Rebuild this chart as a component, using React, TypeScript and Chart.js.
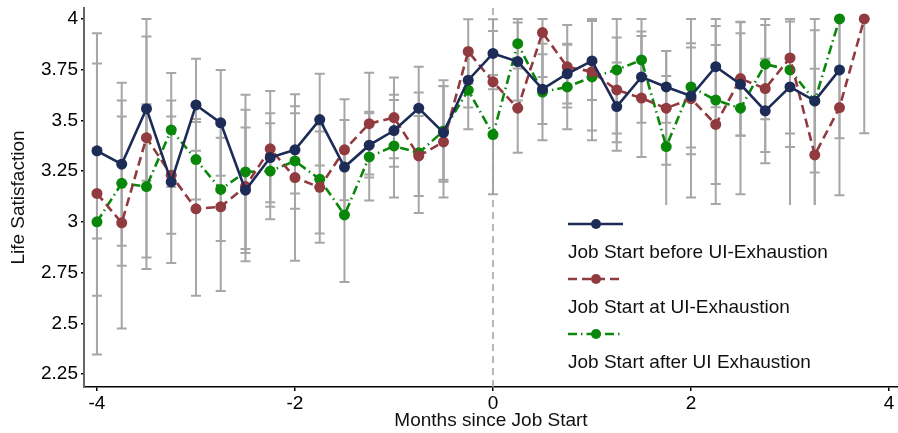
import React, { useEffect, useRef } from "react";
import { Chart, registerables } from "chart.js";

Chart.register(...registerables);

const months = [
  -4, -3.75, -3.5, -3.25, -3, -2.75, -2.5, -2.25, -2, -1.75, -1.5, -1.25, -1, -0.75, -0.5, -0.25,
  0, 0.25, 0.5, 0.75, 1, 1.25, 1.5, 1.75, 2, 2.25, 2.5, 2.75, 3, 3.25, 3.5, 3.75,
];
const xTicks = [-4, -2, 0, 2, 4];
const yTicks = [2.25, 2.5, 2.75, 3, 3.25, 3.5, 3.75, 4];
const seriesLabels = [
  "Job Start before UI-Exhaustion",
  "Job Start at UI-Exhaustion",
  "Job Start after UI Exhaustion",
];

const before = [
  3.35, 3.284, 3.558, 3.197, 3.576, 3.488, 3.156, 3.317, 3.355, 3.504, 3.27, 3.378, 3.45, 3.56, 3.44, 3.698,
  3.83, 3.79, 3.654, 3.73, 3.793, 3.568, 3.714, 3.665, 3.62, 3.765, 3.678, 3.547, 3.665, 3.596, 3.749, null,
];
const beforeLo = [
  2.918, 2.882, 3.203, 2.797, 3.35, 3.227, 2.847, 3.097, 3.14, 3.278, 3.038, 3.218, 3.272, 3.355, 3.207, 3.563,
  3.654, 3.598, 3.482, 3.583, 3.6, 3.351, 3.489, 3.488, 3.366, 3.565, 3.424, 3.289, 3.369, 3.243, 3.412, null,
];
const beforeHi = [
  3.78, 3.686, 3.913, 3.598, 3.804, 3.749, 3.465, 3.535, 3.57, 3.73, 3.502, 3.543, 3.626, 3.765, 3.67, 3.833,
  3.998, 3.982, 3.826, 3.878, 3.99, 3.785, 3.938, 3.842, 3.88, 3.965, 3.93, 3.804, 3.987, 3.944, 4.0, null,
];

const atExh = [
  3.14, 2.995, 3.415, 3.23, 3.064, 3.074, 3.174, 3.36, 3.218, 3.17, 3.355, 3.484, 3.514, 3.325, 3.394, 3.84,
  3.69, 3.56, 3.933, 3.764, 3.74, 3.65, 3.61, 3.56, 3.607, 3.48, 3.706, 3.657, 3.808, 3.33, 3.563, 4.0,
];
const atExhLo = [
  2.346, 2.474, 2.824, 2.941, 2.636, 2.659, 2.806, 3.075, 2.808, 2.897, 3.106, 3.233, 3.314, 3.128, 3.12, 3.682,
  3.439, 3.34, 3.714, 3.563, 3.402, 3.392, 3.32, 3.281, 3.333, 3.088, 3.426, 3.344, 2.95, 2.905, 3.131, 3.437,
];
const atExhHi = [
  3.93, 3.519, 4.0, 3.519, 3.492, 3.489, 3.552, 3.645, 3.629, 3.445, 3.604, 3.735, 3.711, 3.522, 3.668, 3.998,
  3.941, 3.78, 4.0, 3.97, 4.0, 3.908, 3.916, 3.842, 3.859, 3.872, 3.986, 3.97, 4.0, 3.755, 3.995, 4.0,
];

const after = [
  3.0, 3.19, 3.174, 3.453, 3.307, 3.16, 3.246, 3.25, 3.3, 3.21, 3.034, 3.32, 3.374, 3.34, 3.448, 3.649,
  3.43, 3.878, 3.64, 3.665, 3.714, 3.749, 3.798, 3.371, 3.665, 3.6, 3.56, 3.777, 3.749, 3.596, 4.0, null,
];
const afterLo = [
  2.636, 2.783, 2.767, 3.172, 3.11, 2.905, 2.866, 3.013, 3.065, 2.942, 2.704, 3.105, 3.12, 3.043, 3.198, 3.457,
  3.136, 3.756, 3.402, 3.457, 3.45, 3.435, 3.6, 3.023, 3.12, 3.186, 3.136, 3.506, 3.435, 3.0, null, null,
];
const afterHi = [
  3.364, 3.598, 3.58, 3.734, 3.507, 3.415, 3.626, 3.486, 3.535, 3.478, 3.364, 3.535, 3.601, 3.637, 3.698, 3.841,
  3.724, 4.0, 3.878, 3.873, 3.99, 4.0, 4.0, 3.719, 4.0, 4.0, 3.984, 4.0, 4.0, 4.0, null, null,
];

const NAVY = "#1d2b57";
const RED = "#913a3f";
const GREEN = "#0a870a";
const FONT = "'Liberation Sans', Arial, Helvetica, sans-serif";

const seriesStyles = [
  { color: NAVY, dash: [] as number[] },
  { color: RED, dash: [9, 5] },
  { color: GREEN, dash: [9, 4, 1.5, 4] },
];

const ciPairs = [
  [beforeLo, beforeHi],
  [atExhLo, atExhHi],
  [afterLo, afterHi],
];

const errorBarPlugin = {
  id: "errorBars",
  beforeDatasetsDraw(chart: any) {
    const { ctx, chartArea, scales } = chart;
    const xs = scales.x;
    const ys = scales.y;
    ctx.save();
    ctx.beginPath();
    ctx.rect(chartArea.left, chartArea.top, chartArea.right - chartArea.left, chartArea.bottom - chartArea.top);
    ctx.clip();
    ctx.strokeStyle = "#a6a6a6";
    ctx.lineWidth = 2;
    ctx.setLineDash([]);
    for (const [lo, hi] of ciPairs) {
      months.forEach((m, i) => {
        const l = lo[i];
        const h = hi[i];
        if (l == null || h == null) return;
        const px = xs.getPixelForValue(m);
        const pl = ys.getPixelForValue(l);
        const ph = ys.getPixelForValue(h);
        ctx.beginPath();
        ctx.moveTo(px, pl);
        ctx.lineTo(px, ph);
        ctx.moveTo(px - 5, pl);
        ctx.lineTo(px + 5, pl);
        ctx.moveTo(px - 5, ph);
        ctx.lineTo(px + 5, ph);
        ctx.stroke();
      });
    }
    const x0 = xs.getPixelForValue(0);
    ctx.strokeStyle = "#a0a0a0";
    ctx.lineWidth = 1.5;
    ctx.setLineDash([7, 5]);
    ctx.beginPath();
    ctx.moveTo(x0, chartArea.top);
    ctx.lineTo(x0, chartArea.bottom);
    ctx.stroke();
    ctx.restore();
  },
};

const legendPlugin = {
  id: "insideLegend",
  afterDatasetsDraw(chart: any) {
    const { ctx, chartArea } = chart;
    ctx.save();
    ctx.fillStyle = "#ffffff";
    ctx.fillRect(552, 205, chartArea.right - 552, chartArea.bottom - 1 - 205);
    const symX0 = 568;
    const symX1 = 623;
    const markX = 596;
    seriesLabels.forEach((label, i) => {
      const st = seriesStyles[i];
      const sy = 224 + i * 55;
      const ty = 253 + i * 55;
      ctx.strokeStyle = st.color;
      ctx.lineWidth = 2.5;
      ctx.setLineDash(st.dash);
      ctx.beginPath();
      ctx.moveTo(symX0, sy);
      ctx.lineTo(symX1, sy);
      ctx.stroke();
      ctx.setLineDash([]);
      ctx.fillStyle = st.color;
      ctx.beginPath();
      ctx.arc(markX, sy, 5, 0, Math.PI * 2);
      ctx.fill();
      ctx.fillStyle = "#111111";
      ctx.font = `19px ${FONT}`;
      ctx.textAlign = "left";
      ctx.textBaseline = "middle";
      ctx.fillText(label, symX0, ty);
    });
    ctx.restore();
  },
};

export default function App() {
  const ref = useRef<HTMLCanvasElement | null>(null);

  useEffect(() => {
    document.body.style.margin = "0";
    const canvas = ref.current;
    if (!canvas) return;
    const seriesValues = [before, atExh, after];
    const chart = new Chart(canvas, {
      type: "line",
      data: {
        datasets: seriesValues.map((vals, si) => ({
          label: seriesLabels[si],
          data: months.map((m, i) => ({ x: m, y: vals[i] })),
          borderColor: seriesStyles[si].color,
          backgroundColor: seriesStyles[si].color,
          pointBackgroundColor: seriesStyles[si].color,
          pointBorderColor: seriesStyles[si].color,
          borderWidth: 2.6,
          borderDash: seriesStyles[si].dash,
          borderCapStyle: "butt",
          pointRadius: 5.5,
          pointBorderWidth: 0,
          pointHoverRadius: 5.5,
          tension: 0,
          spanGaps: false,
        })),
      },
      options: {
        animation: false,
        responsive: false,
        devicePixelRatio: 1,
        events: [],
        layout: { autoPadding: false, padding: { top: 8, right: 0, left: 0, bottom: 0 } },
        plugins: {
          legend: { display: false },
          tooltip: { enabled: false },
        },
        scales: {
          x: {
            type: "linear",
            min: -4.131,
            max: 4.091,
            afterBuildTicks: (s: any) => {
              s.ticks = xTicks.map((v) => ({ value: v }));
            },
            afterFit: (s: any) => {
              s.height = 46;
              s.paddingLeft = 0;
              s.paddingRight = 0;
            },
            grid: {
              display: true,
              drawOnChartArea: false,
              drawTicks: true,
              tickLength: 4,
              color: "#000",
              lineWidth: 1.5,
            },
            border: { display: true, color: "#000", width: 1.5 },
            ticks: {
              color: "#000",
              font: { family: FONT, size: 19 },
              padding: 1,
              autoSkip: false,
              maxRotation: 0,
              callback: (v: any) => String(v),
            },
            title: {
              display: true,
              text: "Months since Job Start",
              color: "#111",
              font: { family: FONT, size: 19 },
              padding: { top: 0, bottom: 1 },
            },
          },
          y: {
            type: "linear",
            min: 2.186,
            max: 4.054,
            afterBuildTicks: (s: any) => {
              s.ticks = yTicks.map((v) => ({ value: v }));
            },
            afterFit: (s: any) => {
              s.width = 84;
              s.paddingTop = 0;
              s.paddingBottom = 0;
            },
            grid: {
              display: true,
              drawOnChartArea: false,
              drawTicks: true,
              tickLength: 3,
              color: "#000",
              lineWidth: 1.5,
            },
            border: { display: true, color: "#666", width: 2 },
            ticks: {
              color: "#000",
              font: { family: FONT, size: 19 },
              padding: 3,
              autoSkip: false,
              callback: (v: any) => String(v),
            },
            title: {
              display: true,
              text: "Life Satisfaction",
              color: "#111",
              font: { family: FONT, size: 19 },
              padding: { top: 7, bottom: 0 },
            },
          },
        },
      },
      plugins: [errorBarPlugin, legendPlugin],
    } as any);
    return () => chart.destroy();
  }, []);

  return <canvas ref={ref} width={898} height={433} style={{ display: "block", width: 898, height: 433 }} />;
}
